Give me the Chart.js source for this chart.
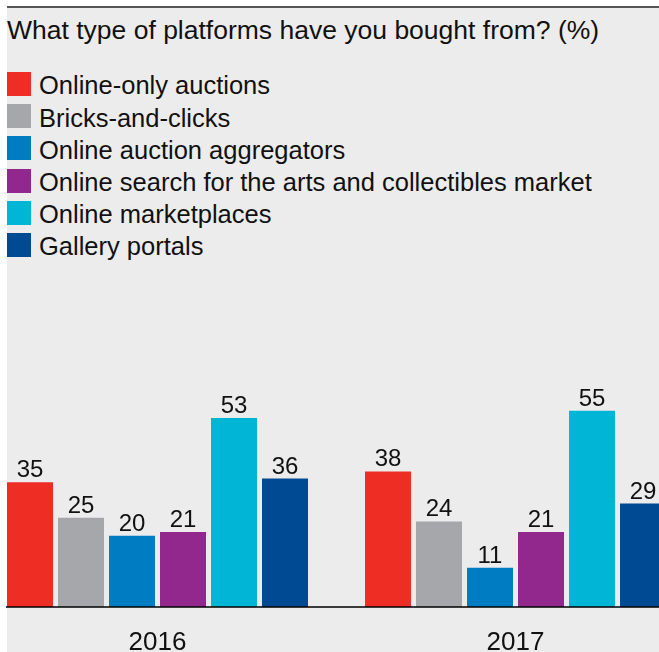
<!DOCTYPE html>
<html>
<head>
<meta charset="utf-8">
<script src="https://cdn.jsdelivr.net/npm/chart.js@4"></script>
<style>
html, body { margin: 0; padding: 0; background: #fff; overflow: hidden; width: 659px; height: 652px; }
#panel { position: absolute; left: 7px; top: 6px; width: 652px; height: 646px; background: #ececec; border-top: 2px solid #555; box-sizing: border-box; }
#title { position: absolute; left: 7px; top: 16.6px; font: 26.5px/26.5px 'Liberation Sans', Arial, Helvetica, sans-serif; color: #111; white-space: nowrap; }
.legBox { position: absolute; left: 7px; width: 24px; height: 24px; }
.legText { position: absolute; left: 39px; font: 25.5px/25.5px 'Liberation Sans', Arial, Helvetica, sans-serif; color: #111; white-space: nowrap; }
#c { position: absolute; left: 0; top: 0; }
</style>
</head>
<body>
<div id="panel"></div>
<div id="title">What type of platforms have you bought from? (%)</div>
<div id="legend"></div>
<canvas id="c" width="659" height="690" style="width:659px;height:690px"></canvas>
<script>
const years = ['2016', '2017'];
const seriesNames = [
  'Online-only auctions',
  'Bricks-and-clicks',
  'Online auction aggregators',
  'Online search for the arts and collectibles market',
  'Online marketplaces',
  'Gallery portals'
];
const seriesColors = ['#ee2e24', '#a6a7aa', '#007cc2', '#92288e', '#00b5d6', '#004a93'];
const onlineOnly = [35, 38];
const bricksClicks = [25, 24];
const aggregators = [20, 11];
const searchArts = [21, 21];
const marketplaces = [53, 55];
const galleryPortals = [36, 29];
const seriesValues = [onlineOnly, bricksClicks, aggregators, searchArts, marketplaces, galleryPortals];

const FONT = "'Liberation Sans', Arial, Helvetica, sans-serif";

// HTML legend built from the series arrays
const leg = document.getElementById('legend');
seriesNames.forEach((name, i) => {
  const box = document.createElement('div');
  box.className = 'legBox';
  box.style.top = Math.round(72 + 32.2 * i) + 'px';
  box.style.background = seriesColors[i];
  leg.appendChild(box);
  const t = document.createElement('div');
  t.className = 'legText';
  t.style.top = (73.4 + 32.2 * i) + 'px';
  t.textContent = name;
  leg.appendChild(t);
});

const valueLabels = {
  id: 'valueLabels',
  afterDatasetsDraw(chart) {
    const c = chart.ctx;
    c.save();
    c.font = '24px ' + FONT;
    c.fillStyle = '#111';
    c.textAlign = 'center';
    c.textBaseline = 'alphabetic';
    chart.data.datasets.forEach((ds, i) => {
      chart.getDatasetMeta(i).data.forEach((bar, j) => {
        c.fillText(String(seriesValues[i][j]), bar.x, bar.y - 5);
      });
    });
    c.restore();
  }
};

new Chart(document.getElementById('c'), {
  type: 'bar',
  data: {
    datasets: seriesNames.map((name, i) => ({
      label: name,
      data: years.map((y, j) => ({ x: j, y: seriesValues[i][j] })),
      backgroundColor: seriesColors[i],
      borderWidth: 0,
      categoryPercentage: 0.85475,
      barPercentage: 0.90196
    }))
  },
  options: {
    responsive: false,
    animation: false,
    devicePixelRatio: 1,
    layout: { padding: { left: 7, right: 0, top: 393, bottom: 11 } },
    plugins: {
      legend: { display: false },
      title: { display: false },
      tooltip: { enabled: false }
    },
    scales: {
      x: {
        type: 'linear',
        min: -0.4204,
        max: 1.4008,
        offset: false,
        grid: { display: false, drawTicks: false },
        border: { display: true, color: 'rgba(0,0,0,0.75)', width: 2, z: 1 },
        ticks: {
          stepSize: 1,
          includeBounds: false,
          autoSkip: false,
          maxRotation: 0,
          minRotation: 0,
          padding: 23,
          color: '#111',
          font: { family: FONT, size: 26, lineHeight: 1 },
          callback: (v) => (years[v] !== undefined ? years[v] : '')
        }
      },
      y: { display: false, min: 0, max: 60 }
    }
  },
  plugins: [valueLabels]
});
</script>
</body>
</html>
